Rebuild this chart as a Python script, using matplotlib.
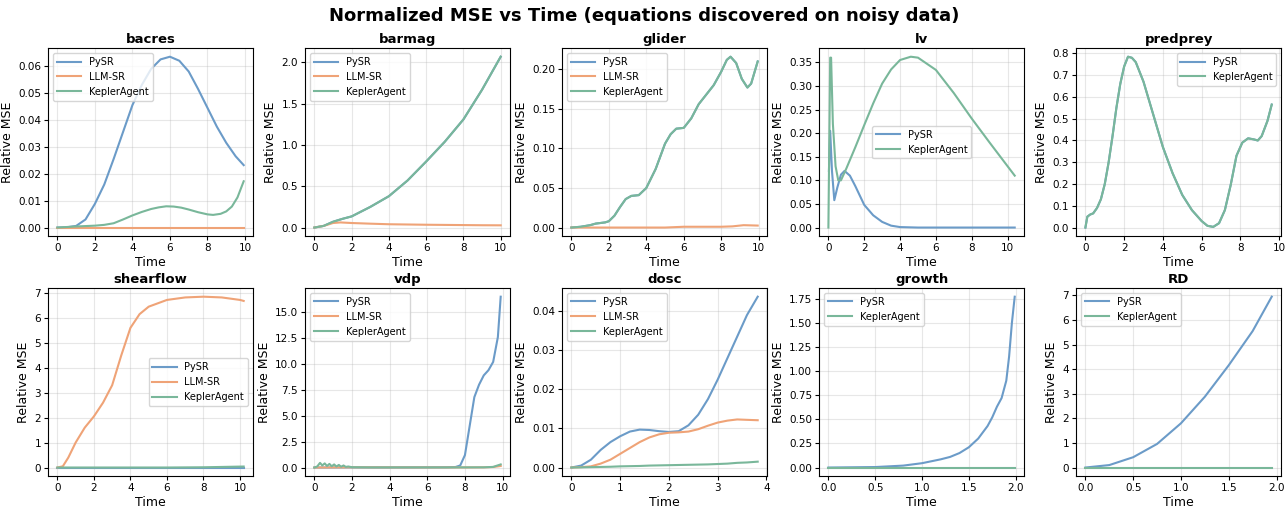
import matplotlib
matplotlib.use("Agg")
import matplotlib.pyplot as plt

# ---------------- data ----------------
# bacres
bacres_t_pysr = [0, 0.5, 1, 1.5, 2, 2.5, 3, 3.5, 4, 4.5, 5, 5.5, 6, 6.5, 7, 7.5, 8, 8.5, 9, 9.5, 9.93]
bacres_y_pysr = [0, 0.0001, 0.0006, 0.003, 0.0088, 0.016, 0.0255, 0.0355, 0.0455, 0.053, 0.059, 0.0625, 0.0635, 0.062, 0.058, 0.0515, 0.0445, 0.0375, 0.0315, 0.0265, 0.0232]
bacres_t_llm = [0, 9.93]
bacres_y_llm = [0, 0]
bacres_t_kep = [0, 1, 2, 2.5, 3, 3.5, 4, 4.5, 5, 5.4, 5.8, 6.2, 6.6, 7, 7.5, 8, 8.3, 8.7, 9, 9.3, 9.6, 9.93]
bacres_y_kep = [0, 0.0004, 0.0007, 0.001, 0.0016, 0.003, 0.0045, 0.0058, 0.0069, 0.0075, 0.0079, 0.0078, 0.0074, 0.0067, 0.0057, 0.0049, 0.0047, 0.0051, 0.0060, 0.0078, 0.0112, 0.0172]

# barmag
barmag_t_kep = [0, 0.5, 1, 1.5, 2, 3, 4, 5, 6, 7, 8, 9, 10]
barmag_y_kep = [0, 0.02, 0.07, 0.105, 0.135, 0.25, 0.38, 0.57, 0.80, 1.04, 1.31, 1.67, 2.07]
barmag_t_pysr = barmag_t_kep
barmag_y_pysr = barmag_y_kep
barmag_t_llm = [0, 0.5, 1, 1.4, 2, 3, 4, 5, 6, 7, 8, 9, 10]
barmag_y_llm = [0, 0.02, 0.055, 0.062, 0.055, 0.047, 0.04, 0.037, 0.034, 0.032, 0.03, 0.028, 0.027]

# glider
glider_t_kep = [0, 0.5, 1, 1.3, 1.8, 2, 2.3, 2.6, 2.9, 3.2, 3.6, 4, 4.5, 5, 5.3, 5.6, 6, 6.4, 6.8, 7.2, 7.6, 8, 8.3, 8.5, 8.8, 9.1, 9.4, 9.6, 9.8, 9.95]
glider_y_kep = [0, 0.001, 0.003, 0.005, 0.0065, 0.008, 0.015, 0.026, 0.036, 0.040, 0.041, 0.050, 0.074, 0.106, 0.118, 0.125, 0.126, 0.138, 0.156, 0.168, 0.180, 0.197, 0.212, 0.216, 0.208, 0.188, 0.177, 0.182, 0.198, 0.21]
glider_t_pysr = glider_t_kep
glider_y_pysr = glider_y_kep
glider_t_llm = [0, 5, 6, 8, 8.6, 9.2, 9.95]
glider_y_llm = [0, 0, 0.001, 0.001, 0.0015, 0.003, 0.0025]

# lv
lv_t_pysr = [0.03, 0.1, 0.2, 0.33, 0.5, 0.7, 0.9, 1.2, 1.5, 2, 2.5, 3, 3.5, 4, 5, 6, 8, 10.4]
lv_y_pysr = [0.12, 0.205, 0.12, 0.058, 0.085, 0.112, 0.12, 0.11, 0.088, 0.048, 0.026, 0.012, 0.004, 0.001, 0, 0, 0, 0]
lv_t_kep = [0, 0.1, 0.15, 0.25, 0.4, 0.55, 0.7, 1.0, 1.5, 2, 2.5, 3, 3.5, 4, 4.6, 5, 6, 7, 8, 9, 10, 10.4]
lv_y_kep = [0, 0.36, 0.36, 0.22, 0.13, 0.10, 0.10, 0.125, 0.17, 0.217, 0.263, 0.305, 0.335, 0.355, 0.362, 0.36, 0.334, 0.285, 0.231, 0.18, 0.13, 0.11]

# predprey
predprey_t_kep = [0, 0.1, 0.25, 0.4, 0.6, 0.8, 1.0, 1.2, 1.4, 1.6, 1.8, 2.0, 2.2, 2.4, 2.6, 3.0, 3.5, 4.0, 4.5, 5.0, 5.5, 6.0, 6.3, 6.6, 6.9, 7.2, 7.5, 7.8, 8.1, 8.4, 8.7, 8.9, 9.1, 9.4, 9.62]
predprey_y_kep = [0, 0.05, 0.06, 0.065, 0.09, 0.13, 0.20, 0.30, 0.42, 0.55, 0.66, 0.74, 0.785, 0.78, 0.76, 0.67, 0.52, 0.37, 0.25, 0.15, 0.08, 0.03, 0.008, 0.003, 0.02, 0.08, 0.195, 0.33, 0.39, 0.41, 0.405, 0.40, 0.42, 0.49, 0.565]
predprey_t_pysr = predprey_t_kep
predprey_y_pysr = predprey_y_kep

# shearflow
shear_t_llm = [0, 0.3, 0.6, 1, 1.5, 2, 2.5, 3, 3.5, 4, 4.5, 5, 6, 7, 8, 9, 10, 10.2]
shear_y_llm = [0, 0.05, 0.4, 1.0, 1.6, 2.05, 2.6, 3.3, 4.5, 5.6, 6.15, 6.45, 6.72, 6.82, 6.85, 6.82, 6.72, 6.68]
shear_t_pysr = [0, 10.2]
shear_y_pysr = [0, 0]
shear_t_kep = [0, 6, 8, 10.2]
shear_y_kep = [0, 0, 0.01, 0.04]

# vdp
vdp_t_pysr = [0, 2, 4, 6, 7, 7.5, 7.75, 8.0, 8.25, 8.5, 8.75, 9.0, 9.25, 9.5, 9.75, 9.9]
vdp_y_pysr = [0, 0.01, 0.01, 0.02, 0.03, 0.05, 0.2, 1.2, 4.0, 6.8, 8.0, 8.9, 9.4, 10.2, 12.6, 16.5]
vdp_t_llm = [0, 2, 5, 8, 9, 9.5, 9.9]
vdp_y_llm = [0, 0.02, 0.01, 0.01, 0.02, 0.05, 0.15]
vdp_t_kep = [0, 0.15, 0.3, 0.42, 0.55, 0.67, 0.8, 0.92, 1.05, 1.17, 1.3, 1.42, 1.55, 1.67, 1.8, 2.0, 3, 5, 7, 9, 9.5, 9.9]
vdp_y_kep = [0, 0.1, 0.45, 0.2, 0.4, 0.15, 0.35, 0.12, 0.3, 0.1, 0.25, 0.08, 0.2, 0.06, 0.1, 0.03, 0.01, 0.01, 0.01, 0.02, 0.06, 0.3]

# dosc
dosc_t = [0, 0.2, 0.4, 0.6, 0.8, 1.0, 1.2, 1.4, 1.6, 1.8, 2.0, 2.2, 2.4, 2.6, 2.8, 3.0, 3.2, 3.4, 3.6, 3.82]
dosc_y_pysr = [0, 0.0005, 0.002, 0.0045, 0.0065, 0.008, 0.0092, 0.0097, 0.0096, 0.0093, 0.0091, 0.0093, 0.0108, 0.0135, 0.0175, 0.0225, 0.028, 0.0335, 0.039, 0.0437]
dosc_y_llm = [0, 0.0001, 0.0003, 0.001, 0.002, 0.0035, 0.005, 0.0065, 0.0077, 0.0085, 0.0089, 0.009, 0.0092, 0.0098, 0.0107, 0.0115, 0.012, 0.0123, 0.0122, 0.0121]
dosc_y_kep = [0, 0.00005, 0.0001, 0.00015, 0.0002, 0.0003, 0.00035, 0.0004, 0.0005, 0.00055, 0.0006, 0.00065, 0.0007, 0.00075, 0.0008, 0.0009, 0.001, 0.0012, 0.0013, 0.0015]

# growth
growth_t_pysr = [0, 0.5, 0.8, 1.0, 1.2, 1.3, 1.4, 1.5, 1.6, 1.7, 1.75, 1.8, 1.85, 1.9, 1.93, 1.96, 1.99]
growth_y_pysr = [0, 0.005, 0.02, 0.045, 0.085, 0.11, 0.15, 0.21, 0.30, 0.43, 0.52, 0.63, 0.72, 0.90, 1.15, 1.5, 1.77]
growth_t_kep = [0, 1.99]
growth_y_kep = [0, 0]

# RD
rd_t_pysr = [0, 0.25, 0.5, 0.75, 1.0, 1.25, 1.5, 1.75, 1.95]
rd_y_pysr = [0, 0.1, 0.42, 0.96, 1.8, 2.88, 4.16, 5.55, 6.95]
rd_t_kep = [0, 1.95]
rd_y_kep = [0, 0]

panel_names = ["bacres", "barmag", "glider", "lv", "predprey",
               "shearflow", "vdp", "dosc", "growth", "RD"]

# ---------------- styling ----------------
C_PYSR = "#6b9bc8"
C_LLM = "#efa377"
C_KEP = "#79b79a"

panels = [
    [("PySR", bacres_t_pysr, bacres_y_pysr, C_PYSR), ("LLM-SR", bacres_t_llm, bacres_y_llm, C_LLM), ("KeplerAgent", bacres_t_kep, bacres_y_kep, C_KEP)],
    [("PySR", barmag_t_pysr, barmag_y_pysr, C_PYSR), ("LLM-SR", barmag_t_llm, barmag_y_llm, C_LLM), ("KeplerAgent", barmag_t_kep, barmag_y_kep, C_KEP)],
    [("PySR", glider_t_pysr, glider_y_pysr, C_PYSR), ("LLM-SR", glider_t_llm, glider_y_llm, C_LLM), ("KeplerAgent", glider_t_kep, glider_y_kep, C_KEP)],
    [("PySR", lv_t_pysr, lv_y_pysr, C_PYSR), ("KeplerAgent", lv_t_kep, lv_y_kep, C_KEP)],
    [("PySR", predprey_t_pysr, predprey_y_pysr, C_PYSR), ("KeplerAgent", predprey_t_kep, predprey_y_kep, C_KEP)],
    [("PySR", shear_t_pysr, shear_y_pysr, C_PYSR), ("LLM-SR", shear_t_llm, shear_y_llm, C_LLM), ("KeplerAgent", shear_t_kep, shear_y_kep, C_KEP)],
    [("PySR", vdp_t_pysr, vdp_y_pysr, C_PYSR), ("LLM-SR", vdp_t_llm, vdp_y_llm, C_LLM), ("KeplerAgent", vdp_t_kep, vdp_y_kep, C_KEP)],
    [("PySR", dosc_t, dosc_y_pysr, C_PYSR), ("LLM-SR", dosc_t, dosc_y_llm, C_LLM), ("KeplerAgent", dosc_t, dosc_y_kep, C_KEP)],
    [("PySR", growth_t_pysr, growth_y_pysr, C_PYSR), ("KeplerAgent", growth_t_kep, growth_y_kep, C_KEP)],
    [("PySR", rd_t_pysr, rd_y_pysr, C_PYSR), ("KeplerAgent", rd_t_kep, rd_y_kep, C_KEP)],
]
legend_locs = ["upper left", "upper left", "upper left", "center", "upper right",
               "center right", "upper left", "upper left", "upper left", "upper left"]

fig, axes = plt.subplots(2, 5, figsize=(12.88, 5.07), dpi=100)
fig.subplots_adjust(left=0.0373, right=0.9946, top=0.905, bottom=0.061,
                    wspace=0.254, hspace=0.277)

for ax, name, series, loc in zip(axes.flat, panel_names, panels, legend_locs):
    for label, t, y, c in series:
        ax.plot(t, y, color=c, lw=1.5, label=label)
    ax.set_title(name, fontsize=9.5, fontweight="bold", pad=4)
    ax.set_xlabel("Time", fontsize=9, labelpad=2)
    ax.set_ylabel("Relative MSE", fontsize=9, labelpad=3)
    ax.tick_params(labelsize=7.5, length=3, pad=2)
    ax.grid(True, alpha=0.3)
    ax.legend(loc=loc, fontsize=7, framealpha=0.8, handlelength=2.5)

fig.suptitle("Normalized MSE vs Time (equations discovered on noisy data)",
             fontsize=13, fontweight="bold", y=0.987)

fig.savefig("out.png", dpi=100)
